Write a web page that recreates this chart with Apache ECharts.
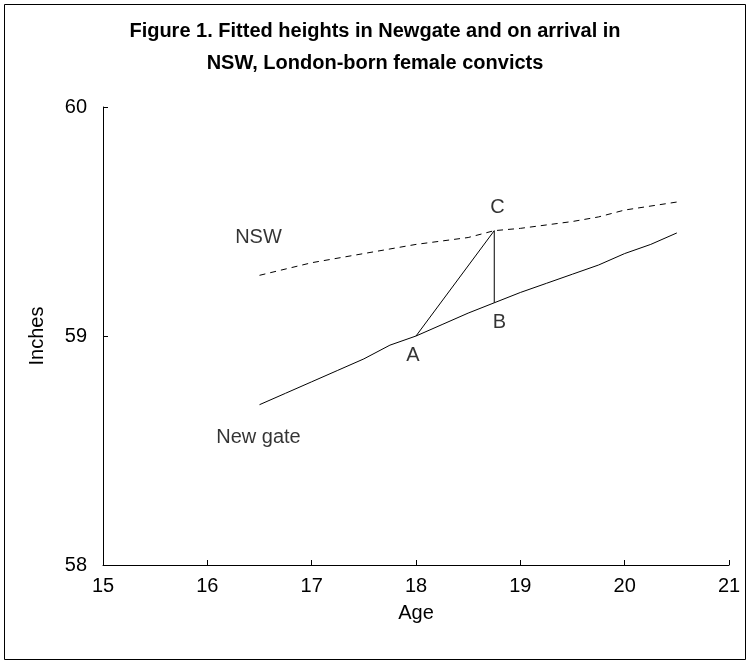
<!DOCTYPE html>
<html>
<head>
<meta charset="utf-8">
<script src="https://cdn.jsdelivr.net/npm/echarts@6/dist/echarts.min.js"></script>
<style>
  html, body { margin: 0; padding: 0; background: #fff; }
  #myChartBox { width: 750px; height: 664px; }
</style>
</head>
<body>
<div id="myChartBox"></div>
<script>
  // ages and fitted heights (inches)
  var newgateAge = [16.5, 16.75, 17, 17.25, 17.5, 17.75, 18, 18.25, 18.5, 18.75, 19, 19.25, 19.5, 19.75, 20, 20.25, 20.5];
  var newgateHeight = [58.70, 58.75, 58.80, 58.85, 58.90, 58.96, 59.00, 59.05, 59.10, 59.145, 59.19, 59.23, 59.27, 59.31, 59.36, 59.40, 59.45];
  var nswAge = [16.5, 17, 17.5, 17.75, 18, 18.5, 18.75, 19, 19.5, 19.75, 20, 20.5];
  var nswHeight = [59.265, 59.32, 59.36, 59.38, 59.40, 59.43, 59.46, 59.47, 59.50, 59.52, 59.55, 59.585];
  // triangle A -> C -> B
  var triAge = [18, 18.75, 18.75];
  var triHeight = [59.0, 59.46, 59.145];
  // text annotations
  var noteText = ['NSW', 'C', 'B', 'A', 'New gate'];
  var noteAge = [16.49, 18.78, 18.8, 17.97, 16.49];
  var noteHeight = [59.43, 59.56, 59.06, 58.915, 58.555];

  function pairs(xs, ys) {
    return xs.map(function (x, i) { return [x, ys[i]]; });
  }

  var font = '"Liberation Sans", Arial, sans-serif';
  var myChart = echarts.init(document.getElementById('myChartBox'));
  var option = {
    animation: false,
    backgroundColor: '#fff',
    title: {
      text: 'Figure 1. Fitted heights in Newgate and on arrival in\nNSW, London-born female convicts',
      left: 'center',
      top: 10,
      textStyle: { fontFamily: font, fontSize: 20, fontWeight: 'bold', color: '#000', lineHeight: 32 }
    },
    graphic: [{
      type: 'rect',
      shape: { x: 4.5, y: 4.5, width: 741, height: 655 },
      style: { fill: 'none', stroke: '#000', lineWidth: 1 }
    }],
    grid: { left: 103, right: 21, top: 107, bottom: 99 },
    xAxis: {
      type: 'value', min: 15, max: 21, interval: 1,
      name: 'Age', nameLocation: 'middle', nameGap: 38,
      nameTextStyle: { fontFamily: font, fontSize: 20, color: '#000' },
      axisLine: { lineStyle: { color: '#000', width: 1 } },
      axisTick: { inside: true, length: 5, lineStyle: { color: '#000' } },
      axisLabel: { fontFamily: font, fontSize: 20, color: '#000', margin: 11 },
      splitLine: { show: false }
    },
    yAxis: {
      type: 'value', min: 58, max: 60, interval: 1,
      name: 'Inches', nameLocation: 'middle', nameGap: 56,
      nameTextStyle: { fontFamily: font, fontSize: 20, color: '#000' },
      axisLine: { show: true, lineStyle: { color: '#000', width: 1 } },
      axisTick: { show: true, inside: true, length: 5, lineStyle: { color: '#000' } },
      axisLabel: { fontFamily: font, fontSize: 20, color: '#000', margin: 16 },
      splitLine: { show: false }
    },
    series: [
      {
        name: 'Newgate', type: 'line', symbol: 'none',
        lineStyle: { color: '#000', width: 1 },
        data: pairs(newgateAge, newgateHeight)
      },
      {
        name: 'NSW', type: 'line', symbol: 'none',
        lineStyle: { color: '#000', width: 1, type: [6, 5] },
        data: pairs(nswAge, nswHeight)
      },
      {
        name: 'triangle', type: 'line', symbol: 'none',
        lineStyle: { color: '#000', width: 1 },
        data: pairs(triAge, triHeight)
      },
      {
        name: 'notes', type: 'scatter', symbolSize: 0,
        label: {
          show: true, position: 'inside', color: '#000',
          textBorderWidth: 0,
          fontFamily: font, fontSize: 20,
          formatter: function (p) { return noteText[p.dataIndex]; }
        },
        data: pairs(noteAge, noteHeight)
      }
    ]
  };
  myChart.setOption(option);
</script>
</body>
</html>
